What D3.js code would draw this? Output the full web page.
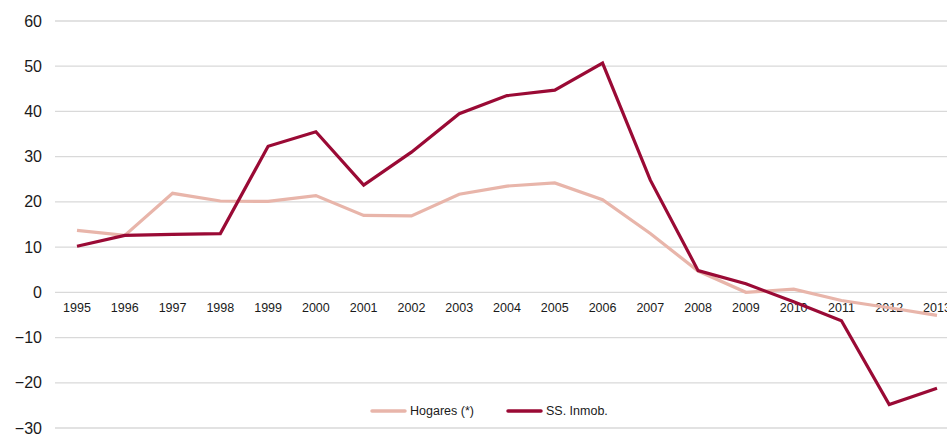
<!DOCTYPE html>
<html>
<head>
<meta charset="utf-8">
<script src="https://cdn.jsdelivr.net/npm/d3@7"></script>
<style>
  body { margin: 0; background: #fff; }
  svg { display: block; font-family: "Liberation Sans", Arial, sans-serif; }
</style>
</head>
<body>
<div id="chart"></div>
<script>
// Data
const years = [1995,1996,1997,1998,1999,2000,2001,2002,2003,2004,2005,2006,2007,2008,2009,2010,2011,2012,2013];
const hogares = [13.7,12.6,21.9,20.2,20.1,21.4,17.0,16.9,21.7,23.5,24.2,20.5,13.0,4.7,0.0,0.7,-1.8,-3.4,-5.1];
const inmob = [10.2,12.6,12.8,13.0,32.3,35.5,23.7,31.0,39.5,43.5,44.7,50.7,24.8,4.8,1.9,-2.1,-6.3,-24.8,-21.2];
const yTicks = [60,50,40,30,20,10,0,-10,-20,-30];
const seriesNames = ["Hogares (*)","SS. Inmob."];
const seriesColors = ["#e8b5aa","#9a0a35"];

const width = 947, height = 434;

const svg = d3.select("#chart").append("svg")
  .attr("width", width).attr("height", height);

const x = d3.scalePoint().domain(years).range([77, 937]);
const y = d3.scaleLinear().domain([-30, 60]).range([428, 21]);

// grid lines
svg.append("g").selectAll("line")
  .data(yTicks).join("line")
  .attr("x1", 55).attr("x2", width)
  .attr("y1", d => y(d)).attr("y2", d => y(d))
  .attr("stroke", "#d9d9d9").attr("stroke-width", 1.3);

// y labels
svg.append("g").selectAll("text")
  .data(yTicks).join("text")
  .attr("x", 42).attr("y", d => y(d))
  .attr("text-anchor", "end")
  .attr("dominant-baseline", "central")
  .style("font-size", "16px")
  .attr("fill", "#1a1a1a")
  .text(d => d < 0 ? "\u2212" + Math.abs(d) : d);

// x labels (sit just below the zero line)
svg.append("g").selectAll("text")
  .data(years).join("text")
  .attr("x", d => x(d)).attr("y", y(0) + 16)
  .attr("text-anchor", "middle")
  .attr("dominant-baseline", "central")
  .style("font-size", "12.5px")
  .attr("fill", "#1a1a1a")
  .text(d => d);

const line = d3.line()
  .x((d, i) => x(years[i]))
  .y(d => y(d));

[hogares, inmob].forEach((s, k) => {
  svg.append("path")
    .datum(s)
    .attr("d", line)
    .attr("fill", "none")
    .attr("stroke", seriesColors[k])
    .attr("stroke-width", 3.2)
    .attr("stroke-linejoin", "miter");
});

// legend
const legX = [372, 508];
seriesNames.forEach((n, k) => {
  const g = svg.append("g").attr("transform", `translate(${legX[k]},411)`);
  g.append("line")
    .attr("x1", 0).attr("x2", 33)
    .attr("stroke", seriesColors[k]).attr("stroke-width", 3.5)
    .attr("stroke-linecap", "round");
  g.append("text")
    .attr("x", 38).attr("y", 0)
    .attr("dominant-baseline", "central")
    .style("font-size", "12.5px")
    .attr("fill", "#1a1a1a")
    .text(n);
});
</script>
</body>
</html>
